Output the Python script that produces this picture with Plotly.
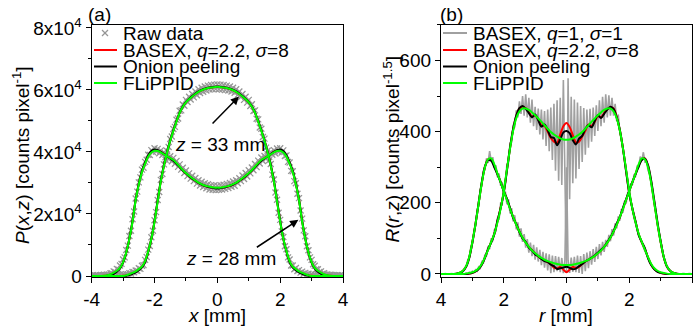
import numpy as np
import plotly.graph_objects as go

# ---------------- data ----------------
x_fine = np.round(np.linspace(-4, 4, 161), 2)    # 0.05 mm grid
x_coarse = np.round(np.linspace(-4, 4, 81), 2)   # 0.1 mm grid

# Panel (a): P(x,z)
raw_28 = [150,-100,200,50,250,-50,300,100,400,150,500,300,900,800,1500,1300,2300,2100,3400,3900,
          5300,6000,8400,9800,12900,14600,18300,20800,25000,27200,30200,31800,34300,34900,36800,37500,39100,39000,40600,40000,
          41200,40100,41000,39600,40500,39000,39900,38300,39200,37700,38600,37000,38100,36200,37100,35200,36000,34300,34900,33200,
          34000,32200,33100,31400,32300,30600,31600,29800,30900,29200,30400,28700,29900,28300,29600,27900,29300,27800,29200,27700,
          29100,
          27800,29300,27900,29400,28100,29700,28400,30000,28800,30500,29100,30900,29900,31500,30600,32400,31300,33200,32100,34100,
          33100,35000,34100,36100,35100,37200,36300,38200,37100,38700,37800,39300,38400,40000,39100,40600,39500,41100,40000,41200,
          39800,40500,38700,38900,36800,36600,33900,33800,30600,29900,26500,25100,21100,18500,14700,12800,9600,8300,6000,5200,
          3800,3300,2200,2200,1300,1500,700,900,300,500,100,400,0,300,-100,250,0,200,-100,150]
raw_33 = [100,-150,200,0,250,-100,200,50,300,-50,250,100,350,50,300,100,400,150,450,200,
          500,300,600,500,900,800,1300,1200,1800,1700,2500,2300,3300,3500,5200,6100,8500,9700,12500,14600,
          18000,20600,24500,27100,31000,32900,36000,37500,40300,41600,44200,45000,47400,48100,50400,50800,53300,53400,55300,54900,
          56800,56100,57800,56900,58700,57600,59500,58300,60200,59000,60700,59400,61100,59800,61400,60100,61600,60200,61700,60300,
          61800,
          60200,61700,60100,61600,60000,61400,59800,61100,59500,60700,59100,60200,58400,59500,57700,58700,56800,57800,55900,56800,
          54800,55400,53200,53400,50700,50500,47900,47500,44800,44300,41400,40400,37300,36100,32700,31100,26900,24600,20400,18100,
          14400,12600,9600,8600,6000,5300,3400,3400,2200,2600,1600,1900,1100,1400,700,1000,400,700,200,550,
          150,450,100,400,50,300,0,350,-50,250,0,300,-100,200,0,250,-100,200,-50,100]

basex_28 = [0,0,0,0,50,200,500,1000,1600,2500,
            4400,7500,12000,17700,24600,29700,33700,36400,38700,40000,
            40600,40400,40000,39300,38600,38000,37300,36300,35200,34100,
            33100,32200,31400,30700,30000,29500,29100,28800,28600,28400,
            28400,
            28400,28600,28800,29100,29500,30000,30700,31400,32200,33100,
            34100,35200,36300,37300,38000,38600,39300,40000,40400,40600,
            40000,38700,36400,33700,29700,24600,17700,12000,7500,4400,
            2500,1600,1000,500,200,50,0,0,0,0]
onion_28 = [0,0,0,0,0,100,300,700,1400,2400,
            4300,7500,12100,17800,24600,29800,33900,36600,38900,40300,
            40800,40600,40000,39300,38600,37900,37200,36200,35100,34000,
            33100,32200,31400,30700,30000,29500,29100,28800,28500,28300,
            28200,
            28300,28500,28800,29100,29500,30000,30700,31400,32200,33100,
            34000,35100,36200,37200,37900,38600,39300,40000,40600,40800,
            40300,38900,36600,33900,29800,24600,17800,12100,7500,4300,
            2400,1400,700,300,100,0,0,0,0,0]
flippid_28 = [0,0,0,0,100,250,600,1100,1700,2600,
              4500,7600,12000,17500,24500,29500,33500,36200,38500,39800,
              40400,40300,39900,39200,38600,38000,37400,36400,35300,34200,
              33200,32300,31500,30800,30100,29600,29200,28900,28700,28500,
              28500,
              28500,28700,28900,29200,29600,30100,30800,31500,32300,33200,
              34200,35300,36400,37400,38000,38600,39200,39900,40300,40400,
              39800,38500,36200,33500,29500,24500,17500,12000,7600,4500,
              2600,1700,1100,600,250,100,0,0,0,0]
basex_33 = [0,0,0,0,0,0,0,0,0,0,
            50,150,500,900,1400,2100,2900,4700,7900,12000,
            17600,24200,30600,35600,39900,43700,46900,49900,52600,54600,
            56000,57000,57900,58700,59400,59900,60300,60600,60800,60900,
            61000,
            60900,60800,60600,60300,59900,59400,58700,57900,57000,56000,
            54600,52600,49900,46900,43700,39900,35600,30600,24200,17600,
            12000,7900,4700,2900,2100,1400,900,500,150,50,
            0,0,0,0,0,0,0,0,0,0]
onion_33 = [0,0,0,0,0,0,0,0,0,0,
            0,100,300,700,1200,1900,2800,4500,7800,12000,
            17800,24400,30800,35800,40000,43800,47000,50000,52700,54700,
            56100,57100,58000,58800,59500,60000,60400,60700,60900,61000,
            61100,
            61000,60900,60700,60400,60000,59500,58800,58000,57100,56100,
            54700,52700,50000,47000,43800,40000,35800,30800,24400,17800,
            12000,7800,4500,2800,1900,1200,700,300,100,0,
            0,0,0,0,0,0,0,0,0,0]
flippid_33 = [0,0,0,0,0,0,0,0,0,0,
              0,200,600,1000,1500,2200,3000,4800,8000,12000,
              17500,24000,30500,35500,39800,43600,46800,49800,52600,54600,
              56000,57000,57900,58700,59400,59900,60300,60600,60800,60900,
              61000,
              60900,60800,60600,60300,59900,59400,58700,57900,57000,56000,
              54600,52600,49800,46800,43600,39800,35500,30500,24000,17500,
              12000,8000,4800,3000,2200,1500,1000,600,200,0,
              0,0,0,0,0,0,0,0,0,0]

# Panel (b): R(r,z)
q1_inner = [0,0,1,0,1,0,1,0,2,0,1,0,2,0,2,0,3,1,5,2,
            8,4,12,8,20,16,34,30,55,50,78,70,100,92,125,118,158,152,198,195,
            245,250,308,312,368,370,420,412,460,440,485,450,500,445,505,440,495,425,490,415,
            470,405,465,392,462,378,458,360,462,345,468,320,478,290,488,262,495,250,545,200,
            5,
            550,210,498,255,490,268,482,295,472,315,466,335,462,355,464,372,468,388,474,402,
            488,415,498,425,505,440,502,445,495,445,478,430,448,398,378,350,320,290,255,228,
            200,180,158,140,126,108,98,85,76,64,56,44,36,26,20,14,10,7,5,4,
            2,2,1,1,0,1,0,1,0,1,0,1,0,1,0,1,0,1,0,0]
q1_outer = [0,1,0,1,0,1,0,1,0,2,1,3,4,8,8,17,20,38,44,75,
            86,122,135,178,190,236,248,290,292,325,312,345,318,328,298,305,272,282,248,258,
            222,232,196,210,170,185,148,165,125,145,105,128,90,112,74,98,60,88,50,82,
            40,75,35,68,25,62,18,58,10,55,2,52,5,50,8,48,5,45,2,40,
            300,
            38,3,46,6,48,5,52,3,50,0,56,8,60,16,64,26,70,34,76,42,
            84,52,90,62,96,76,110,92,126,108,142,128,162,150,182,172,205,198,228,225,
            255,250,278,275,302,300,330,318,342,315,318,290,282,250,232,192,172,136,118,88,
            72,45,36,21,15,8,6,3,2,1,2,0,1,0,1,0,1,0,1,0]

basex_inner = [0,0,0,0,0,0,0,0,0,1,3,7,15,27,46,69,90,113,148,186,
               230,292,354,406,444,465,470,466,455,442,446,434,418,416,400,382,372,368,392,415,
               424,
               413,390,370,372,386,402,420,416,428,444,440,452,463,468,465,442,404,353,290,228,
               184,147,112,89,70,46,26,14,7,3,1,0,0,0,0,0,0,0,0,0]
onion_inner = [0,0,0,0,0,0,0,0,0,1,3,7,14,26,45,70,88,112,150,185,
               228,290,355,408,445,466,472,464,452,440,448,432,414,420,405,385,382,362,378,398,
               402,
               396,376,364,380,388,408,418,412,430,446,438,450,462,470,464,440,405,352,288,226,
               184,148,110,90,72,44,25,13,6,3,1,0,0,0,0,0,0,0,0,0]
flippid_inner = [0,0,0,0,0,0,0,0,1,3,5,9,16,28,47,68,90,113,145,183,
                 232,293,352,403,438,457,465,465,461,454,446,437,428,418,408,399,392,386,381,378,
                 377,
                 378,381,386,392,399,408,418,428,437,446,454,461,465,465,457,438,403,352,293,232,
                 183,145,113,90,68,47,28,16,9,5,3,1,0,0,0,0,0,0,0,0]
basex_outer = [0,0,0,0,0,1,4,9,21,47,90,141,199,256,301,322,322,304,281,259,
               233,210,184,160,139,119,101,89,75,67,57,49,43,38,33,28,18,16,20,12,
               5,
               12,20,17,20,28,35,40,45,51,58,66,76,88,102,119,139,159,184,209,233,
               258,281,305,322,325,303,258,200,141,90,47,21,9,4,1,0,0,0,0,0]
onion_outer = [0,0,0,0,0,1,3,8,20,45,88,140,200,258,302,320,318,300,280,258,
               232,212,185,158,140,118,100,90,74,66,55,50,42,36,34,26,22,14,16,18,
               20,
               17,13,15,22,28,35,40,46,52,60,68,76,90,103,120,142,160,186,210,234,
               258,280,302,320,324,305,262,205,145,92,48,21,9,3,1,0,0,0,0,0]
flippid_outer = [0,0,0,0,0,1,4,9,22,48,90,140,198,255,300,322,325,308,282,258,
                 233,208,183,160,138,119,102,88,76,66,58,51,45,40,36,33,30,28,26,25,
                 25,
                 25,26,28,30,33,36,40,45,51,58,66,76,88,102,119,138,160,183,208,233,
                 258,282,308,325,322,300,255,198,140,90,48,22,9,4,1,0,0,0,0,0]

for arr in (raw_28, raw_33, q1_inner, q1_outer):
    assert len(arr) == 161, len(arr)
for arr in (basex_28, onion_28, flippid_28, basex_33, onion_33, flippid_33,
            basex_inner, onion_inner, flippid_inner, basex_outer, onion_outer, flippid_outer):
    assert len(arr) == 81, len(arr)

r_ticks = [-4, -2, 0, 2, 4]
r_ticktext = ["4", "2", "0", "2", "4"]
p_ticks = [0, 20000, 40000, 60000, 80000]
p_ticktext = ["0", "2x10<sup>4</sup>", "4x10<sup>4</sup>", "6x10<sup>4</sup>", "8x10<sup>4</sup>"]
R_ticks = [0, 200, 400, 600]

# ---------------- styling ----------------
FONT = "Liberation Sans, Arial, sans-serif"
W, H = 693, 327
GRAY = "rgb(160,160,160)"
RAWC = "rgb(150,150,150)"
RED = "#ff0000"
BLACK = "#000000"
GREEN = "#00ff00"

def px(x):
    return x / W

def py(y):
    return 1 - y / H

fig = go.Figure()

# panel (a)
for yv in (raw_33, raw_28):
    fig.add_trace(go.Scatter(x=x_fine, y=yv, mode="markers", xaxis="x", yaxis="y",
                             marker=dict(symbol="x-thin", size=6, line=dict(width=1.3, color=RAWC), color=RAWC)))
for yv, col in ((basex_33, RED), (basex_28, RED), (onion_33, BLACK), (onion_28, BLACK),
                (flippid_33, GREEN), (flippid_28, GREEN)):
    fig.add_trace(go.Scatter(x=x_coarse, y=yv, mode="lines", xaxis="x", yaxis="y",
                             line=dict(color=col, width=2, shape="spline", smoothing=0.8)))

# panel (b)
for yv in (q1_inner, q1_outer):
    fig.add_trace(go.Scatter(x=x_fine, y=yv, mode="lines", xaxis="x2", yaxis="y2",
                             line=dict(color=GRAY, width=1.6)))
for yv, col in ((basex_inner, RED), (basex_outer, RED), (onion_inner, BLACK), (onion_outer, BLACK),
                (flippid_inner, GREEN), (flippid_outer, GREEN)):
    fig.add_trace(go.Scatter(x=x_coarse, y=yv, mode="lines", xaxis="x2", yaxis="y2",
                             line=dict(color=col, width=2, shape="spline", smoothing=0.8)))

axis_common = dict(showline=True, mirror=True, linecolor="black", linewidth=1.3,
                   ticks="outside", ticklen=5, tickwidth=1.3, tickcolor="black",
                   showgrid=False, zeroline=False, automargin=False,
                   tickfont=dict(family=FONT, size=19, color="black"))

def minor(d):
    return dict(ticks="outside", ticklen=3, tickwidth=1.3, tickcolor="black", dtick=d, tick0=0)

ydom = [py(277), py(24.5)]
fig.update_layout(
    template="none",
    width=W, height=H, margin=dict(l=0, r=0, t=0, b=0, pad=0, autoexpand=False),
    paper_bgcolor="white", plot_bgcolor="white", showlegend=False,
    font=dict(family=FONT, size=19, color="black"),
    xaxis=dict(domain=[px(91.7), px(343)], range=[-4, 4], anchor="y",
               tickvals=r_ticks, ticktext=[str(v) for v in r_ticks], minor=minor(1), **axis_common),
    yaxis=dict(domain=ydom, range=[-323, 81100], anchor="x",
               tickvals=p_ticks, ticktext=p_ticktext, minor=minor(10000), **axis_common),
    xaxis2=dict(domain=[px(441), px(692)], range=[-4, 4], anchor="y2",
                tickvals=r_ticks, ticktext=r_ticktext, minor=minor(1), **axis_common),
    yaxis2=dict(domain=ydom, range=[-8.5, 701], anchor="x2",
                tickvals=R_ticks, ticktext=[str(v) for v in R_ticks], minor=minor(100), **axis_common),
)

ann = []
def text(xp, yp, s, xanchor="center", angle=0, size=19):
    ann.append(dict(x=px(xp), y=py(yp), xref="paper", yref="paper", text=s, showarrow=False,
                    xanchor=xanchor, yanchor="middle", textangle=angle,
                    font=dict(family=FONT, size=size, color="black")))

text(100, 15, "(a)")
text(451, 15, "(b)")
text(21, 155, "<i>P</i>(<i>x</i>,<i>z</i>) [counts pixel<sup>-1</sup>]", angle=-90)
text(391, 148.5, "<i>R</i>(<i>r</i>,<i>z</i>) [counts pixel<sup>-1.5</sup>]", angle=-90)
text(217.5, 315, "<i>x</i> [mm]")
text(566, 315, "<i>r</i> [mm]")
text(220, 145, "<i>z</i> = 33 mm")
text(231, 258.5, "<i>z</i> = 28 mm")

# legends
leg_rows = [33, 50, 66.5, 83]
left_labels = ["Raw data", "BASEX, <i>q</i>=2.2, <i>σ</i>=8", "Onion peeling", "FLiPPID"]
right_labels = ["BASEX, <i>q</i>=1, <i>σ</i>=1", "BASEX, <i>q</i>=2.2, <i>σ</i>=8", "Onion peeling", "FLiPPID"]
for yy, s in zip(leg_rows, left_labels):
    text(121, yy, s, xanchor="left")
for yy, s in zip(leg_rows, right_labels):
    text(471, yy, s, xanchor="left")

# arrows
ann.append(dict(x=0.69, y=57900, ax=-0.2, ay=48700, xref="x", yref="y", axref="x", ayref="y",
                text="", showarrow=True, arrowhead=2, arrowsize=1.1, arrowwidth=1.5, arrowcolor="black"))
ann.append(dict(x=2.58, y=18100, ax=1.21, ay=8950, xref="x", yref="y", axref="x", ayref="y",
                text="", showarrow=True, arrowhead=2, arrowsize=1.1, arrowwidth=1.5, arrowcolor="black"))

shapes = []
def seg(x0, y0, x1, y1, col, w=2):
    shapes.append(dict(type="line", xref="paper", yref="paper", x0=px(x0), y0=py(y0), x1=px(x1), y1=py(y1),
                       line=dict(color=col, width=w)))

# left legend symbols
seg(102, 30, 108, 36, RAWC, 1.3)
seg(102, 36, 108, 30, RAWC, 1.3)
seg(94, leg_rows[1], 117, leg_rows[1], RED)
seg(94, leg_rows[2], 117, leg_rows[2], BLACK)
seg(94, leg_rows[3], 117, leg_rows[3], GREEN)
# right legend symbols
seg(443, leg_rows[0], 467, leg_rows[0], GRAY)
seg(443, leg_rows[1], 467, leg_rows[1], RED)
seg(443, leg_rows[2], 467, leg_rows[2], BLACK)
seg(443, leg_rows[3], 467, leg_rows[3], GREEN)

fig.update_layout(annotations=ann, shapes=shapes)
fig.write_html("out.html")
